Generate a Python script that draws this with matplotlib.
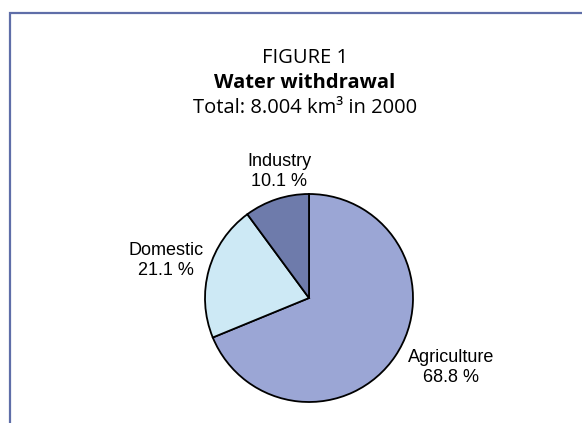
import matplotlib

matplotlib.use("Agg")
import matplotlib.pyplot as plt
from matplotlib.patches import Rectangle

# Water withdrawal by sector, 2000 (percent of 8.004 km3)
sectors = ["Agriculture", "Domestic", "Industry"]
shares = [68.8, 21.1, 10.1]
colors = ["#9BA6D5", "#CDE9F5", "#6E7BAB"]

FRAME_COLOR = "#5F6EA8"
W, H = 582, 423

fig = plt.figure(figsize=(W / 100, H / 100), dpi=100)
fig.patch.set_facecolor("white")

# Open-ended frame (top and left edges visible, runs off right/bottom)
fig.patches.append(Rectangle((10.5 / W, -0.1), 1.2, (H - 13.5) / H + 0.1,
                             transform=fig.transFigure, fill=False,
                             edgecolor=FRAME_COLOR, linewidth=1.6))

# Title block (baselines in px from top)
title_font = "Open Sans"
fig.text(305 / W, 1 - 63 / H, "FIGURE 1", ha="center", va="baseline",
         fontsize=14.5, family=title_font)
fig.text(305 / W, 1 - 88 / H, "Water withdrawal", ha="center",
         va="baseline", fontsize=14.5, fontweight="bold", family=title_font)
fig.text(305 / W, 1 - 113 / H, "Total: 8.004 km\u00b3 in 2000", ha="center",
         va="baseline", fontsize=14.5, family=title_font)

# Pie, centred at (309, 298) px with radius 104 px
cx, cy, r = 309, 298, 104
ax = fig.add_axes([(cx - r) / W, (H - cy - r) / H, 2 * r / W, 2 * r / H])
ax.pie(shares, colors=colors, startangle=90, counterclock=False,
       wedgeprops=dict(edgecolor="black", linewidth=1.3))
ax.set_xlim(-1.0, 1.0)
ax.set_ylim(-1.0, 1.0)
ax.set_aspect("equal")
ax.axis("off")

# Slice labels: centre x and baseline of the name line, px
label_pos = {"Industry": (279, 166), "Domestic": (166, 255),
             "Agriculture": (451, 362)}
for name, val in zip(sectors, shares):
    x, y = label_pos[name]
    fig.text(x / W, 1 - y / H, name, ha="center", va="baseline",
             fontsize=13, family="Liberation Sans")
    fig.text(x / W, 1 - (y + 20) / H, f"{val:.1f} %", ha="center",
             va="baseline", fontsize=13, family="Liberation Sans")

fig.savefig("out.png", dpi=100, facecolor="white")
